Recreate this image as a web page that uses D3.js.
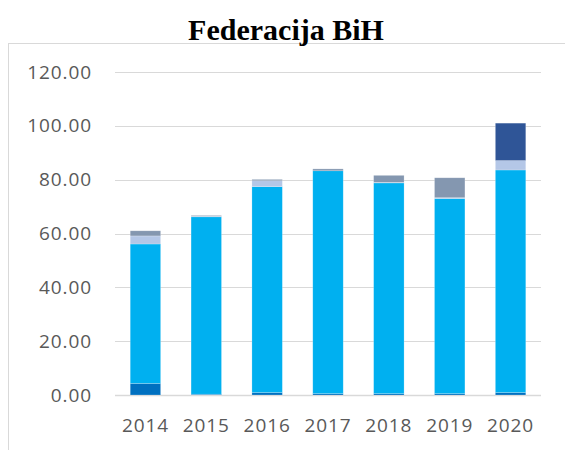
<!DOCTYPE html>
<html><head><meta charset="utf-8">
<script src="https://cdn.jsdelivr.net/npm/d3@7"></script>
<style>body{margin:0;background:#fff}</style></head>
<body><svg id="c" width="565" height="450"></svg>
<script>
const years = ["2014","2015","2016","2017","2018","2019","2020"];
const seriesNames = ["s1","s2","s3","s4","s5"];
const s1 = [4.3, 0.3, 0.9, 0.5, 0.5, 0.5, 0.9];
const s2 = [51.8, 65.9, 76.5, 82.8, 78.3, 72.5, 82.7];
const s3 = [3.0, 0.2, 2.2, 0.0, 0.2, 0.3, 3.5];
const s4 = [1.9, 0.3, 0.5, 0.7, 2.6, 7.4, 0.0];
const s5 = [0.0, 0.0, 0.0, 0.0, 0.0, 0.0, 13.9];
const colors = ["#0070C0","#00B0F0","#B4C7E7","#8497B0","#2F5597"];
const yTicks = [0,20,40,60,80,100,120];

const rows = years.map((y,i)=>({year:y,s1:s1[i],s2:s2[i],s3:s3[i],s4:s4[i],s5:s5[i]}));
const stack = d3.stack().keys(seriesNames)(rows);

const svg = d3.select("#c");
svg.append("rect").attr("x",8.5).attr("y",43.5).attr("width",600).attr("height",500)
  .attr("fill","none").attr("stroke","#d9d9d9").attr("stroke-width",1);

svg.append("text").attr("x",286).attr("y",40).attr("text-anchor","middle")
  .attr("font-family","Liberation Serif, Times New Roman, serif").attr("font-weight","bold")
  .attr("font-size",30).attr("fill","#000").text("Federacija BiH");

const x = d3.scaleBand().domain(years).range([115,541]).paddingInner(0.5).paddingOuter(0.25);
const y = d3.scaleLinear().domain([0,120]).range([395,72]);

const grid = svg.append("g");
grid.selectAll("line").data(yTicks).join("line")
  .attr("x1",115).attr("x2",541).attr("y1",d=>Math.round(y(d))+0.5).attr("y2",d=>Math.round(y(d))+0.5)
  .attr("stroke","#d9d9d9").attr("stroke-width",d=>d===0?1.5:1);

const labelFont = "Open Sans, Liberation Sans, sans-serif";
const yAxis = d3.axisLeft(y).tickValues(yTicks).tickFormat(d3.format(".2f")).tickSize(0).tickPadding(0);
const ya = svg.append("g").attr("transform","translate(92,0)").call(yAxis);
ya.select(".domain").remove();
ya.selectAll("text").attr("font-family",labelFont).attr("font-size",19).attr("letter-spacing",0.9).attr("fill","#595959");

svg.append("g").selectAll("g").data(stack).join("g")
  .attr("fill",(d,i)=>colors[i])
  .selectAll("rect").data(d=>d).join("rect")
  .attr("x",d=>x(d.data.year)).attr("width",x.bandwidth())
  .attr("y",d=>y(d[1])).attr("height",d=>Math.max(0,y(d[0])-y(d[1])))
  .attr("stroke","#ffffff").attr("stroke-opacity",0.35).attr("stroke-width",0.6);

const xAxis = d3.axisBottom(x).tickSize(0).tickPadding(0);
const xa = svg.append("g").attr("transform","translate(0,418)").call(xAxis);
xa.select(".domain").remove();
xa.selectAll("text").attr("font-family",labelFont).attr("font-size",19).attr("letter-spacing",0.9).attr("fill","#595959");
</script></body></html>
